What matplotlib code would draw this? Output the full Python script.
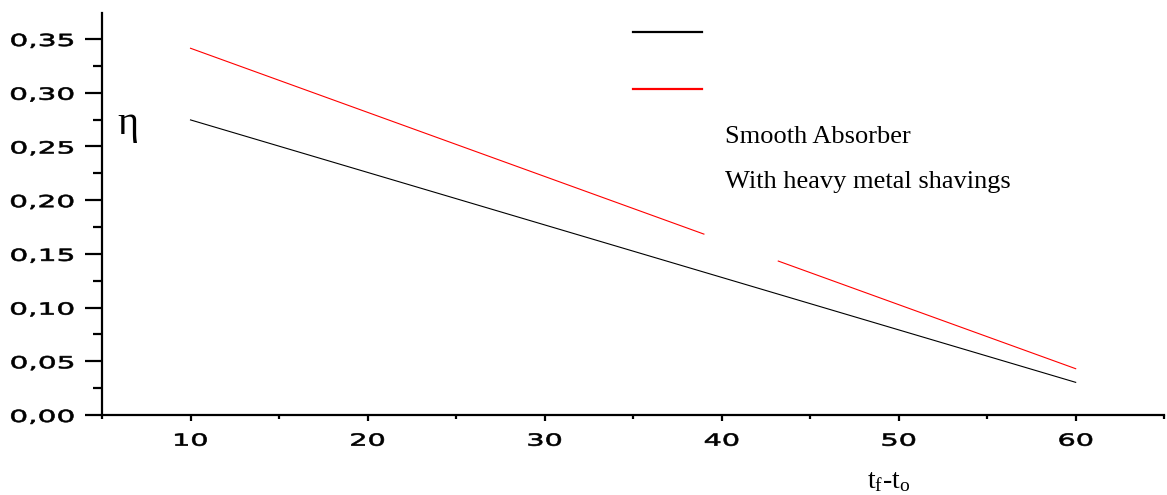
import numpy as np
import matplotlib
matplotlib.use("Agg")
import matplotlib.pyplot as plt
import matplotlib.patheffects as pe
from matplotlib.transforms import Affine2D
from matplotlib.lines import Line2D

# ---- data ----
smooth_x = [10, 60]
smooth_eta = [0.2747, 0.0304]
shavings_x = [10, 39.0, np.nan, 43.2, 60]
shavings_eta = [0.3414, 0.1684, np.nan, 0.1433, 0.0431]

xticks = [10, 20, 30, 40, 50, 60]
xtick_labels = ["10", "20", "30", "40", "50", "60"]
yticks = [0.00, 0.05, 0.10, 0.15, 0.20, 0.25, 0.30, 0.35]
ytick_labels = ["0,00", "0,05", "0,10", "0,15", "0,20", "0,25", "0,30", "0,35"]
legend_labels = ["Smooth Absorber", "With heavy metal shavings"]
xlabel = "t$_\\mathrm{f}$-t$_\\mathrm{o}$"
ylabel = "η"


class HStretch(pe.AbstractPathEffect):
    """Stretch (and slightly embolden) text horizontally around an anchor."""
    def __init__(self, sx, anchor="center", stroke=0.0):
        super().__init__()
        self.sx = sx
        self.anchor = anchor
        self.stroke = stroke

    def draw_path(self, renderer, gc, tpath, affine, rgbFace=None):
        ext = tpath.get_extents()
        if self.anchor == "right":
            a = ext.x1
        elif self.anchor == "left":
            a = ext.x0
        else:
            a = 0.5 * (ext.x0 + ext.x1)
        t = Affine2D().translate(-a, 0).scale(self.sx, 1).translate(a, 0) + affine
        gc0 = renderer.new_gc()
        gc0.copy_properties(gc)
        if self.stroke > 0 and rgbFace is not None:
            gc0.set_linewidth(self.stroke)
            gc0.set_foreground(rgbFace)
        renderer.draw_path(gc0, tpath, t, rgbFace)
        gc0.restore()


plt.rcParams["mathtext.fontset"] = "custom"
plt.rcParams["mathtext.rm"] = "Liberation Serif"
plt.rcParams["mathtext.it"] = "Liberation Serif:italic"

W, H = 1167, 495
fig = plt.figure(figsize=(W / 100, H / 100), dpi=100)
ax = fig.add_axes([102 / W, 1 - 415 / H, (1164.2 - 102) / W, (415 - 12.7) / H])

ax.plot(smooth_x, smooth_eta, color="black", lw=0.8)
ax.plot(shavings_x, shavings_eta, color="red", lw=0.8)

ax.set_xlim(5, 65)
ax.set_ylim(0, 0.3745)
for s in ["top", "right"]:
    ax.spines[s].set_visible(False)
for s in ["left", "bottom"]:
    ax.spines[s].set_linewidth(1.6)

ax.set_xticks(xticks)
ax.set_xticklabels(xtick_labels)
ax.set_xticks([5, 15, 25, 35, 45, 55, 65], minor=True)
ax.set_yticks(yticks)
ax.set_yticklabels(ytick_labels)
ax.set_yticks([0.025, 0.075, 0.125, 0.175, 0.225, 0.275, 0.325], minor=True)

ax.tick_params(axis="x", which="major", direction="out", length=4.5, width=1.6,
               pad=7.5, labelsize=12)
ax.tick_params(axis="x", which="minor", direction="out", length=2.8, width=1.6)
ax.tick_params(axis="y", which="major", direction="out", length=12, width=1.6,
               pad=8, labelsize=12)
ax.tick_params(axis="y", which="minor", direction="out", length=6.5, width=1.6)

plt.setp(ax.get_xticklabels(), path_effects=[HStretch(1.72, "center", 0.45)])
plt.setp(ax.get_yticklabels(), path_effects=[HStretch(1.78, "right", 0.45)])

# y label (eta)
fig.text(117 / W, 1 - 134 / H, ylabel, fontsize=29, family="Liberation Serif",
         ha="left", va="baseline")
# x label
fig.text(889 / W, 1 - 488 / H, xlabel, fontsize=20, family="Liberation Serif",
         ha="center", va="baseline")

# detached legend (lines and texts placed separately, as in the original)
fig.add_artist(Line2D([633 / W, 702 / W], [1 - 32.3 / H, 1 - 32.3 / H],
                      transform=fig.transFigure, color="black", lw=1.6))
fig.add_artist(Line2D([633 / W, 702 / W], [1 - 89 / H, 1 - 89 / H],
                      transform=fig.transFigure, color="red", lw=1.6))
fig.text(725 / W, 1 - 142.7 / H, legend_labels[0], fontsize=19,
         family="Liberation Serif", ha="left", va="baseline")
fig.text(725 / W, 1 - 188 / H, legend_labels[1], fontsize=19,
         family="Liberation Serif", ha="left", va="baseline")

fig.savefig("out.png", dpi=100)
